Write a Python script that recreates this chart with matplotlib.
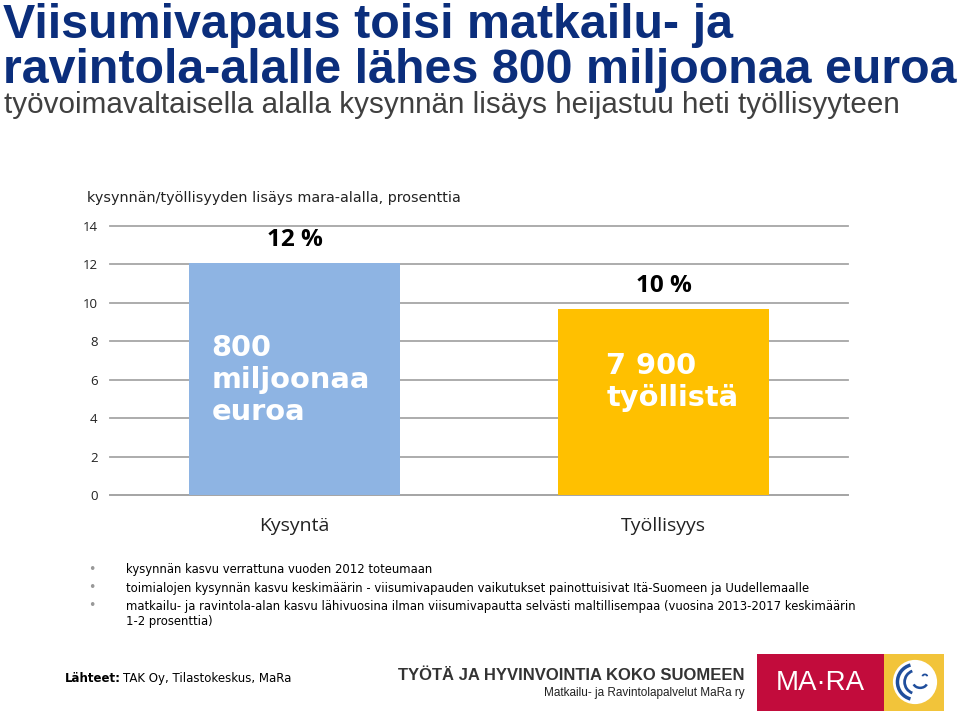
import numpy as np
import matplotlib as mpl
mpl.use('Agg')
import matplotlib.pyplot as plt
from matplotlib.patches import Rectangle, Circle, Arc

plt.rcParams["font.family"] = "DejaVu Sans"

# data
categories = ["Kysyntä", "Työllisyys"]
values = [12.1, 9.7]
value_labels = ["12 %", "10 %"]
inner_labels = ["800\nmiljoonaa\neuroa", "7 900\ntyöllistä"]
bar_colors = ["#8EB4E3", "#FFC000"]
yticks = [0, 2, 4, 6, 8, 10, 12, 14]

title_lines = ["Viisumivapaus toisi matkailu- ja",
               "ravintola-alalle lähes 800 miljoonaa euroa"]
subtitle = "työvoimavaltaisella alalla kysynnän lisäys heijastuu heti työllisyyteen"
chart_title = "kysynnän/työllisyyden lisäys mara-alalla, prosenttia"
bullets = ["kysynnän kasvu verrattuna vuoden 2012 toteumaan",
           "toimialojen kysynnän kasvu keskimäärin - viisumivapauden vaikutukset painottuisivat Itä-Suomeen ja Uudellemaalle",
           "matkailu- ja ravintola-alan kasvu lähivuosina ilman viisumivapautta selvästi maltillisempaa (vuosina 2013-2017 keskimäärin\n1-2 prosenttia)"]

W, H = 960, 712
fig = plt.figure(figsize=(9.6, 7.12), dpi=100)

def fx(px):
    return px / W

def fy(py):
    return 1 - py / H

# headline
navy = "#0B2E7C"
fig.text(fx(3), fy(38), title_lines[0], fontsize=34.8, fontweight="bold", color=navy,
         family="Liberation Sans", va="baseline", ha="left")
fig.text(fx(3), fy(83), title_lines[1], fontsize=34.8, fontweight="bold", color=navy,
         family="Liberation Sans", va="baseline", ha="left")
fig.text(fx(4), fy(113), subtitle, fontsize=21.3, color="#404040",
         family="Liberation Sans", va="baseline", ha="left")

# bar chart
ax = fig.add_axes([fx(110), fy(495), fx(848 - 110), (495 - 226) / H])
x = np.arange(len(categories))
bars = ax.bar(x, values, width=0.57, color=bar_colors, zorder=3)
ax.set_xlim(-0.5, 1.5)
ax.set_ylim(0, 14)
ax.set_yticks(yticks)
ax.set_yticklabels([str(t) for t in yticks], fontsize=9.5, family="Open Sans", color="#222222")
ax.set_xticks(x)
ax.set_xticklabels(categories, fontsize=14, family="Open Sans", color="#222222")
ax.tick_params(axis="x", length=0, pad=16)
ax.tick_params(axis="y", length=0, pad=9)
ax.grid(axis="y", color="#A6A6A6", linewidth=1.3, zorder=0)
for gl in ax.get_ygridlines():
    gl.set_clip_on(False)
for s in ["top", "right", "left"]:
    ax.spines[s].set_visible(False)
ax.spines["bottom"].set_color("#A6A6A6")
ax.spines["bottom"].set_linewidth(1.3)

# inner label placement (offset from bar left, top y)
inner_dx = [0.06, 0.13]
inner_top = [8.4, 7.45]
for i, b in enumerate(bars):
    ax.text(b.get_x() + b.get_width() / 2, values[i] + 0.55, value_labels[i],
            ha="center", va="bottom", fontsize=17.5, fontweight="bold",
            family="Open Sans", color="black")
    ax.text(b.get_x() + inner_dx[i], inner_top[i], inner_labels[i], ha="left", va="top",
            fontsize=20.8, fontweight="bold", color="white", linespacing=1.2)

fig.text(fx(87), fy(198), chart_title, fontsize=10.4, color="#222222", va="center", ha="left")

# bullet notes
ys = [573, 592, 610]
for yy, t in zip(ys, bullets):
    fig.text(fx(88), fy(yy - 4), "•", fontsize=9, color="#999999", va="center", ha="left")
    for k, line in enumerate(t.split("\n")):
        fig.text(fx(126), fy(yy + 15 * k), line, fontsize=8.35, color="black",
                 va="baseline", ha="left")

# footer
fig.text(fx(65), fy(682), "Lähteet:", fontsize=8.5, fontweight="bold", color="black",
         va="baseline", ha="left")
fig.text(fx(123), fy(682), "TAK Oy, Tilastokeskus, MaRa", fontsize=8.5, color="black",
         va="baseline", ha="left")
fig.text(fx(745), fy(680), "TYÖTÄ JA HYVINVOINTIA KOKO SUOMEEN", fontsize=12,
         fontweight="bold", color="#333333", family="Liberation Sans",
         va="baseline", ha="right")
fig.text(fx(745), fy(696), "Matkailu- ja Ravintolapalvelut MaRa ry", fontsize=8.5,
         color="#222222", family="Liberation Sans", va="baseline", ha="right")

# logo
fig.add_artist(Rectangle((fx(757), fy(711)), fx(884 - 757), (711 - 654) / H,
                         facecolor="#C20C3C", edgecolor="none"))
fig.add_artist(Rectangle((fx(884), fy(711)), fx(944 - 884), (711 - 654) / H,
                         facecolor="#F2C43A", edgecolor="none"))
fig.text(fx(820), fy(683), "MA·RA", fontsize=20, color="white", family="Liberation Sans",
         va="center", ha="center")
lax = fig.add_axes([fx(889), fy(708), fx(52), 52 / H], zorder=5)
lax.set_xlim(-1, 1)
lax.set_ylim(-1, 1)
lax.set_aspect("equal")
lax.axis("off")
blue = "#1F4E9C"
lax.add_patch(Circle((0, 0), 0.85, facecolor="white", edgecolor="none"))
lax.add_patch(Arc((0, 0), 1.35, 1.35, theta1=105, theta2=255, color=blue, linewidth=2.5))
lax.add_patch(Arc((0.05, 0), 0.9, 0.9, theta1=110, theta2=250, color=blue, linewidth=2))
lax.add_patch(Arc((0.2, 0.0), 0.55, 0.45, theta1=200, theta2=340, color=blue, linewidth=1.8))
lax.add_patch(Arc((0.38, 0.22), 0.18, 0.14, theta1=0, theta2=180, color=blue, linewidth=1.3))

fig.savefig("out.png", dpi=100, facecolor="white")
